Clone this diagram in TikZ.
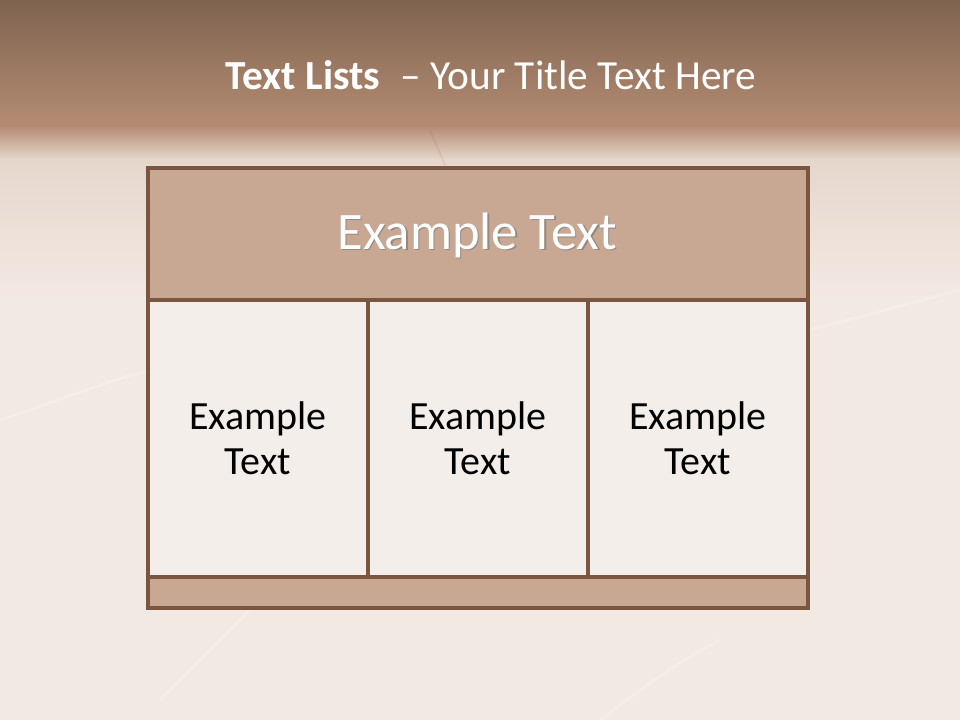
\documentclass[tikz,border=0pt]{standalone}
\usepackage{fontspec}
\setmainfont{Carlito}
\definecolor{bandtop}{HTML}{7F6350}
\definecolor{bandbot}{HTML}{B48C73}
\definecolor{bgl}{HTML}{F3E9E3}
\definecolor{bgm}{HTML}{E6D7CD}
\definecolor{hdr}{HTML}{C8A893}
\definecolor{cellc}{HTML}{F3EEE9}
\definecolor{edge}{HTML}{7A5540}
\tikzset{
  cellbox/.style={draw=edge, line width=2.5pt, fill=cellc},
  hdrbox/.style={draw=edge, line width=2.5pt, fill=hdr},
  celltext/.style={font=\fontsize{30}{34}\selectfont, align=center, text=black},
  streak/.style={draw=white, opacity=0.2, line width=2pt}
}
\begin{document}
\begin{tikzpicture}[x=0.75pt,y=-0.75pt]
\useasboundingbox (0,0) rectangle (960,720);
% background
\fill[bgl] (0,0) rectangle (960,720);
\shade[top color=bandtop, bottom color=bandbot] (0,0) rectangle (960,126);
\shade[top color=bandbot, bottom color=bgm] (0,126) rectangle (960,160);
\shade[top color=bgm, bottom color=bgl] (0,160) rectangle (960,300);
% faint streaks
\draw[streak] (0,420) .. controls (60,400) and (110,380) .. (150,370);
\draw[streak] (808,330) .. controls (870,315) and (920,300) .. (960,290);
\draw[streak] (160,700) .. controls (200,660) and (230,630) .. (250,610);
\draw[streak] (600,720) .. controls (640,690) and (680,660) .. (720,640);
\draw[draw=edge, opacity=0.1, line width=1.5pt] (430,130) -- (445,165);
% title
\node[text=white, font=\fontsize{31}{36}\selectfont] (title) at (491,75) {\textbf{Text Lists}\enspace – Your Title Text Here};
% table
\path[hdrbox] (148,168) rectangle (808,300);
\node[text=white, font=\fontsize{39.5}{44}\selectfont] (hdrtxt) at (478,236) {\tikz[baseline]{\node[inner sep=0, text=black!55, opacity=0.6] at (1.2pt,-1.2pt) {Example Text}; \node[inner sep=0] at (0,0) {Example Text};}};
\path[cellbox] (148,300) rectangle (368,577);
\path[cellbox] (368,300) rectangle (588,577);
\path[cellbox] (588,300) rectangle (808,577);
\path[hdrbox] (148,577) rectangle (808,608);
\node[celltext] (c1) at (258,438) {Example\\Text};
\node[celltext] (c2) at (478,438) {Example\\Text};
\node[celltext] (c3) at (698,438) {Example\\Text};
\end{tikzpicture}
\end{document}
